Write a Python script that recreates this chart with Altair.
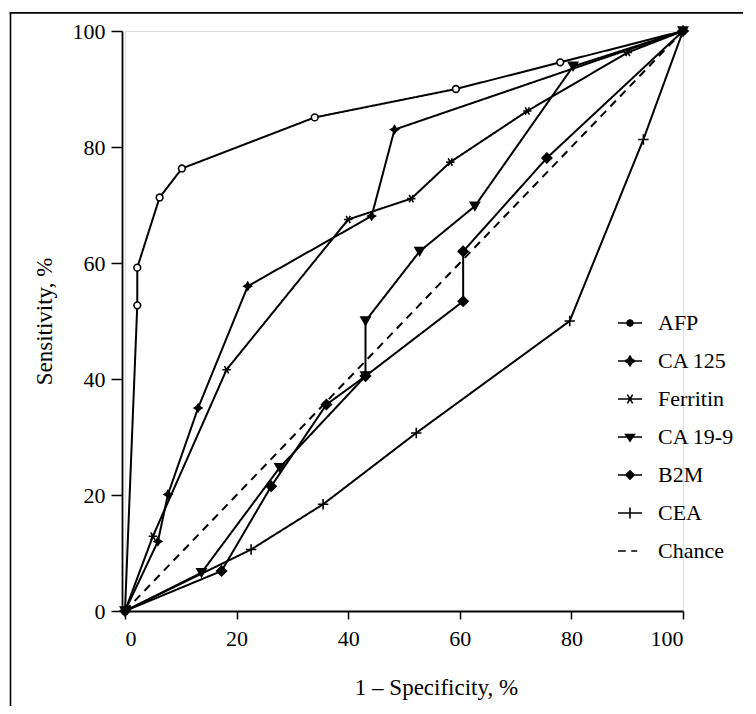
import altair as alt
import pandas as pd

series_names = ["AFP", "CA 125", "Ferritin", "CA 19-9", "B2M", "CEA", "Chance"]

afp_x = [0, 2.2, 2.2, 6.2, 10.2, 34.0, 59.3, 78.0, 100]
afp_y = [0, 52.7, 59.2, 71.3, 76.3, 85.1, 90.0, 94.6, 100]
ca125_x = [0, 5.9, 7.7, 13.1, 22.0, 44.2, 48.3, 100]
ca125_y = [0, 12.0, 20.1, 35.0, 56.0, 68.1, 83.0, 100]
ferritin_x = [0, 5.0, 18.2, 40.0, 51.3, 58.3, 72.1, 90.1, 100]
ferritin_y = [0, 12.9, 41.6, 67.5, 71.1, 77.4, 86.2, 96.3, 100]
ca199_x = [0, 13.7, 27.7, 43.1, 43.1, 52.8, 62.7, 80.3, 100]
ca199_y = [0, 6.6, 24.7, 40.5, 50.0, 62.0, 69.8, 93.9, 100]
b2m_x = [0, 17.3, 26.2, 36.1, 43.1, 60.6, 60.6, 75.6, 100]
b2m_y = [0, 6.9, 21.5, 35.6, 40.5, 53.4, 62.0, 78.1, 100]
cea_x = [0, 22.6, 35.5, 52.2, 79.7, 92.9, 100]
cea_y = [0, 10.6, 18.4, 30.7, 50.0, 81.3, 100]
chance_x = [0, 100]
chance_y = [0, 100]

tick_values = [0, 20, 40, 60, 80, 100]

series_xy = [
    ("AFP", afp_x, afp_y),
    ("CA 125", ca125_x, ca125_y),
    ("Ferritin", ferritin_x, ferritin_y),
    ("CA 19-9", ca199_x, ca199_y),
    ("B2M", b2m_x, b2m_y),
    ("CEA", cea_x, cea_y),
    ("Chance", chance_x, chance_y),
]
rows = []
for name, xs, ys in series_xy:
    for i, (xv, yv) in enumerate(zip(xs, ys)):
        rows.append({"series": name, "x": xv, "y": yv, "idx": i})
df = pd.DataFrame(rows)
pts = df[df["series"] != "Chance"]
legend_df = df[df["idx"] == 0]

FONT = "Liberation Serif"
W, H = 558, 580

marker_names = series_names[:6]
marker_paths = [
    "circle",
    "M0,-1L0.38,-0.38L1,0L0.38,0.38L0,1L-0.38,0.38L-1,0L-0.38,-0.38Z",
    "M-1,0H1M-0.5,-0.87L0.5,0.87M-0.5,0.87L0.5,-0.87",
    "triangle-down",
    "diamond",
    "M-1,0H1M0,-1V1",
]
marker_fill = ["white", "black", "black", "black", "black", "black"]
marker_size = [45, 110, 110, 80, 90, 150]

legend_paths = [
    "M-1,0H1M-0.26,0L-0.18,-0.18L0,-0.26L0.18,-0.18L0.26,0L0.18,0.18L0,0.26L-0.18,0.18Z",
    "M-1,0H1M0,-0.4L0.16,-0.15L0.42,0L0.16,0.15L0,0.4L-0.16,0.15L-0.42,0L-0.16,-0.15Z",
    "M-1,0H1M-0.4,0H0.4M-0.22,-0.36L0.22,0.36M-0.22,0.36L0.22,-0.36",
    "M-1,0H1M-0.36,-0.2H0.36L0,0.34Z",
    "M-1,0H1M0,-0.34L0.34,0L0,0.34L-0.34,0Z",
    "M-1,0H1M0,-0.45V0.45",
    "M-1,0H-0.35M0.1,0H0.6",
]

xenc = alt.X("x:Q", scale=alt.Scale(domain=[0, 100], nice=False), axis=alt.Axis(
    values=tick_values, tickSize=8, tickWidth=1.5, domainWidth=1.8,
    labelFontSize=22, labelPadding=9, labelFont=FONT, labelColor="black",
    title="1 – Specificity, %", titleFont=FONT, titleFontSize=23,
    titleFontWeight="normal", titleColor="black", titleX=311, titleY=83,
    titleBaseline="alphabetic", grid=False, domainColor="black", tickColor="black"))
yenc = alt.Y("y:Q", scale=alt.Scale(domain=[0, 100], nice=False), axis=alt.Axis(
    values=tick_values, tickSize=11, tickWidth=1.5, domainWidth=1.8, offset=3,
    labelFontSize=22, labelPadding=6, labelFont=FONT, labelColor="black",
    title="Sensitivity, %", titleFont=FONT, titleFontSize=23,
    titleFontWeight="normal", titleColor="black", titleX=-78, titleY=H / 2,
    titleAngle=270, titleAlign="center", titleBaseline="middle",
    grid=False, domainColor="black", tickColor="black"))

frame_df = pd.DataFrame({"a": [0]})
frame_left = alt.Chart(frame_df).mark_rect(color="black", strokeWidth=0).encode(
    x=alt.value(-115.3), x2=alt.value(-113.7), y=alt.value(-19), y2=alt.value(H + 200))
frame_top = alt.Chart(frame_df).mark_rect(color="black", strokeWidth=0).encode(
    x=alt.value(-115.3), x2=alt.value(W + 60), y=alt.value(-19), y2=alt.value(-17.2))

lines = alt.Chart(df).mark_line(color="black").encode(
    x=xenc, y=yenc, detail="series:N", order="idx:Q",
    strokeWidth=alt.StrokeWidth("series:N", scale=alt.Scale(
        domain=series_names, range=[2, 2, 2, 2, 2, 1.5, 2]), legend=None),
    strokeDash=alt.StrokeDash("series:N", scale=alt.Scale(
        domain=series_names, range=[[1, 0]] * 6 + [[8, 6]]), legend=None),
)

points = alt.Chart(pts).mark_point(filled=True, stroke="black", strokeWidth=1.6, opacity=1).encode(
    x="x:Q", y="y:Q",
    shape=alt.Shape("series:N", scale=alt.Scale(domain=marker_names, range=marker_paths), legend=None),
    fill=alt.Fill("series:N", scale=alt.Scale(domain=marker_names, range=marker_fill), legend=None),
    size=alt.Size("series:N", scale=alt.Scale(domain=marker_names, range=marker_size), legend=None),
)

legend_layer = alt.Chart(legend_df).mark_point(
    filled=True, fill="black", stroke="black", strokeWidth=1.6, opacity=0
).encode(
    x="x:Q", y="y:Q",
    shape=alt.Shape("series:N", scale=alt.Scale(domain=series_names, range=legend_paths),
                    legend=alt.Legend(title=None, orient="none", legendX=492, legendY=279,
                                      symbolSize=576, symbolStrokeWidth=1.6,
                                      symbolOpacity=1, labelFont=FONT, labelFontSize=22,
                                      labelColor="black", labelOffset=15, rowPadding=14,
                                      labelLimit=200)),
)

chart = alt.layer(frame_left, frame_top, lines, points, legend_layer).resolve_scale(
    shape="independent", fill="independent", size="independent",
    strokeWidth="independent", strokeDash="independent",
).properties(
    width=W, height=H, autosize=alt.AutoSizeParams(type="none"),
    padding={"left": 117, "top": 23, "right": 65, "bottom": 95},
).configure_view(stroke=None).configure(background="white")

chart.save("out.html", embed_options={"renderer": "svg", "actions": False})
